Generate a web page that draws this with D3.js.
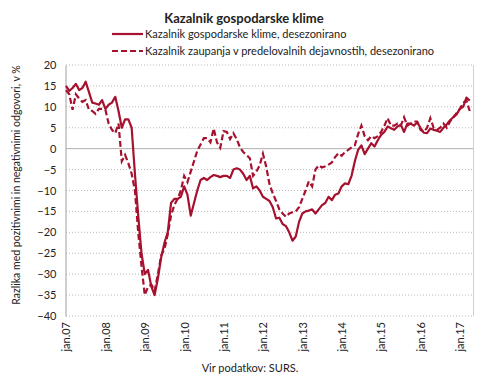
<!DOCTYPE html>
<html>
<head>
<meta charset="utf-8">
<script src="https://cdn.jsdelivr.net/npm/d3@7"></script>
<style>
  body { margin: 0; background: #fff; }
  text { font-family: Lato, "Open Sans", sans-serif; fill: #222; }
</style>
</head>
<body>
<script>
// mesecni podatki jan.07 - apr.17
var klima = [
  15, 13.8, 14.5, 15.5, 14, 14.5, 16, 13.5, 11, 10.8, 10.5, 11.6,
  9.5, 10.5, 11, 12.4, 9, 5, 7, 7, 5, -6, -16, -25,
  -30, -29, -33, -35, -31, -26, -22.5, -20, -13, -12, -12, -11.5,
  -9, -11, -16, -13, -10, -7.5, -7, -7.5, -6.8, -6.3, -6.5, -6.8,
  -6.5, -6.5, -7, -5, -4.7, -5, -6, -7.5, -6.5, -9.5, -9, -10,
  -11.5, -12, -12.5, -14, -16.7, -16.5, -18, -18.5, -20, -22, -21, -17.5,
  -15.5, -15, -14.8, -14.5, -15.5, -14.5, -13.5, -13, -11.5, -12.3, -11, -10.7,
  -9, -8.3, -8.5, -6.5, -3, -0.3, 0.8, -1.3, 0, 1.3, 0.5, 2,
  3.3, 4, 5.3, 4.9, 4.5, 5.3, 5.7, 4, 6, 6, 5.5, 6.3,
  5, 3.8, 3.7, 4.8, 4.5, 4.3, 4, 5, 5.8, 6.8, 7.5, 8.2,
  9.5, 10, 12.2, 11.5
];
var predelovalne = [
  14, 13, 9.3, 13, 12, 11.2, 11.6, 9.3, 9, 8.3, 9.5, 9.5,
  9.3, 6, 4.5, 3.7, 6, -3, -1.5, -3.5, -6, -10, -20, -28,
  -35, -33, -32.5, -34, -30, -25.5, -24, -20.5, -16, -13.5, -12, -10,
  -6.5, -8, -5.5, -3, -0.5, 1, 2.5, 2.5, 1.5, 4.8, 1.5, 0.2,
  4.2, 4, 2.3, 3.7, 2.3, 0.3, -0.8, -1.5, -2.3, -6.5, -5.5, -4,
  -1.2, -4.3, -8.5, -10.7, -12.5, -14.5, -15.5, -16.3, -15.5, -15.2, -15, -14,
  -12, -10, -7.8, -9, -5, -4, -4.5, -4.2, -3.8, -3.3, -2, -1.1,
  -1.7, -0.8, -0.3, 0.3, 0.8, 3.5, 5.5, 3, 2, 3, 2.5, 3,
  4, 5.5, 7.3, 5.5, 5.5, 6, 5.5, 7.5, 5.5, 6, 6.5, 6.5,
  4.5, 4, 5, 7.3, 5, 4.5, 5, 6, 5, 6.5, 7.5, 8.5,
  9.5, 11, 11.5, 9
];
var xLabels = ["jan.07", "jan.08", "jan.09", "jan.10", "jan.11", "jan.12",
               "jan.13", "jan.14", "jan.15", "jan.16", "jan.17"];
var yTicks = [-40, -35, -30, -25, -20, -15, -10, -5, 0, 5, 10, 15, 20];
var seriesNames = ["Kazalnik gospodarske klime, desezonirano",
                   "Kazalnik zaupanja v predelovalnih dejavnostih, desezonirano"];

var width = 490, height = 380;
var margin = ({top: 65, right: 17, bottom: 64, left: 66});
var red = "#a6112f";

var x = d3.scaleLinear()
    .domain([0, 124])
    .range([margin.left, width - margin.right]);

var y = d3.scaleLinear()
    .domain([-40, 20])
    .range([height - margin.bottom, margin.top]);

const svg = d3.select("body").append("svg")
    .attr("width", width)
    .attr("height", height);

// mreza
svg.append("g")
  .selectAll("line")
  .data(yTicks)
  .enter().append("line")
    .attr("x1", margin.left)
    .attr("x2", width - margin.right)
    .attr("y1", d => y(d))
    .attr("y2", d => y(d))
    .attr("stroke", d => d === 0 ? "#b0b0b0" : "#b8b8b8")
    .attr("stroke-width", 1)
    .attr("stroke-dasharray", d => d === 0 ? null : "1,2");

// desni rob
svg.append("line")
    .attr("x1", width - margin.right + 0.5)
    .attr("x2", width - margin.right + 0.5)
    .attr("y1", margin.top)
    .attr("y2", height - margin.bottom)
    .attr("stroke", "#d0d0d0");

// y os
var yAxis = g => g
    .attr("transform", `translate(${margin.left - 0.5},0)`)
    .call(d3.axisLeft(y).tickValues(yTicks).tickSize(0).tickPadding(9))
    .call(g => g.select(".domain").attr("stroke", "#a0a0a0"))
    .call(g => g.selectAll("text").attr("font-size", 11));

svg.append("g").call(yAxis);

// x os
var xAxis = g => g
    .attr("transform", `translate(0,${height - margin.bottom})`)
    .call(d3.axisBottom(x)
      .tickValues(d3.range(0, 121, 12))
      .tickFormat((d, i) => xLabels[i])
      .tickSize(0))
    .call(g => g.select(".domain").remove())
    .call(g => g.selectAll("text")
      .attr("font-size", 11)
      .attr("transform", "rotate(-90)")
      .attr("text-anchor", "end")
      .attr("x", -6)
      .attr("y", 0)
      .attr("dy", "0.35em"));

svg.append("g").call(xAxis);

var line = d3.line()
    .x((d, i) => x(i))
    .y(d => y(d));

svg.append("path")
    .datum(predelovalne)
    .attr("fill", "none")
    .attr("stroke", red)
    .attr("stroke-width", 2.2)
    .attr("stroke-dasharray", "6,3")
    .attr("d", line);

svg.append("path")
    .datum(klima)
    .attr("fill", "none")
    .attr("stroke", red)
    .attr("stroke-width", 2.2)
    .attr("stroke-linejoin", "round")
    .attr("d", line);

// naslov
svg.append("text")
    .attr("x", 244)
    .attr("y", 23)
    .attr("text-anchor", "middle")
    .attr("font-size", 13)
    .attr("font-weight", "bold")
    .text("Kazalnik gospodarske klime");

// legenda
var legend = svg.append("g")
  .selectAll("g")
  .data(seriesNames)
  .enter().append("g")
    .attr("transform", (d, i) => `translate(112,${34 + i * 17})`);

legend.append("line")
    .attr("x1", 0)
    .attr("x2", 31)
    .attr("stroke", red)
    .attr("stroke-width", 2.2)
    .attr("stroke-dasharray", (d, i) => i === 1 ? "6,3" : null);

legend.append("text")
    .attr("x", 33)
    .attr("dy", "0.35em")
    .attr("font-size", 11)
    .text(d => d);

// oznaka y osi
svg.append("text")
    .attr("transform", "translate(20,185) rotate(-90)")
    .attr("text-anchor", "middle")
    .attr("font-size", 10.5)
    .text("Razlika med pozitivnimi in negativnimi odgovori, v %");

// vir
svg.append("text")
    .attr("x", 250)
    .attr("y", 372)
    .attr("text-anchor", "middle")
    .attr("font-size", 11)
    .text("Vir podatkov: SURS.");

svg.node();
</script>
</body>
</html>
